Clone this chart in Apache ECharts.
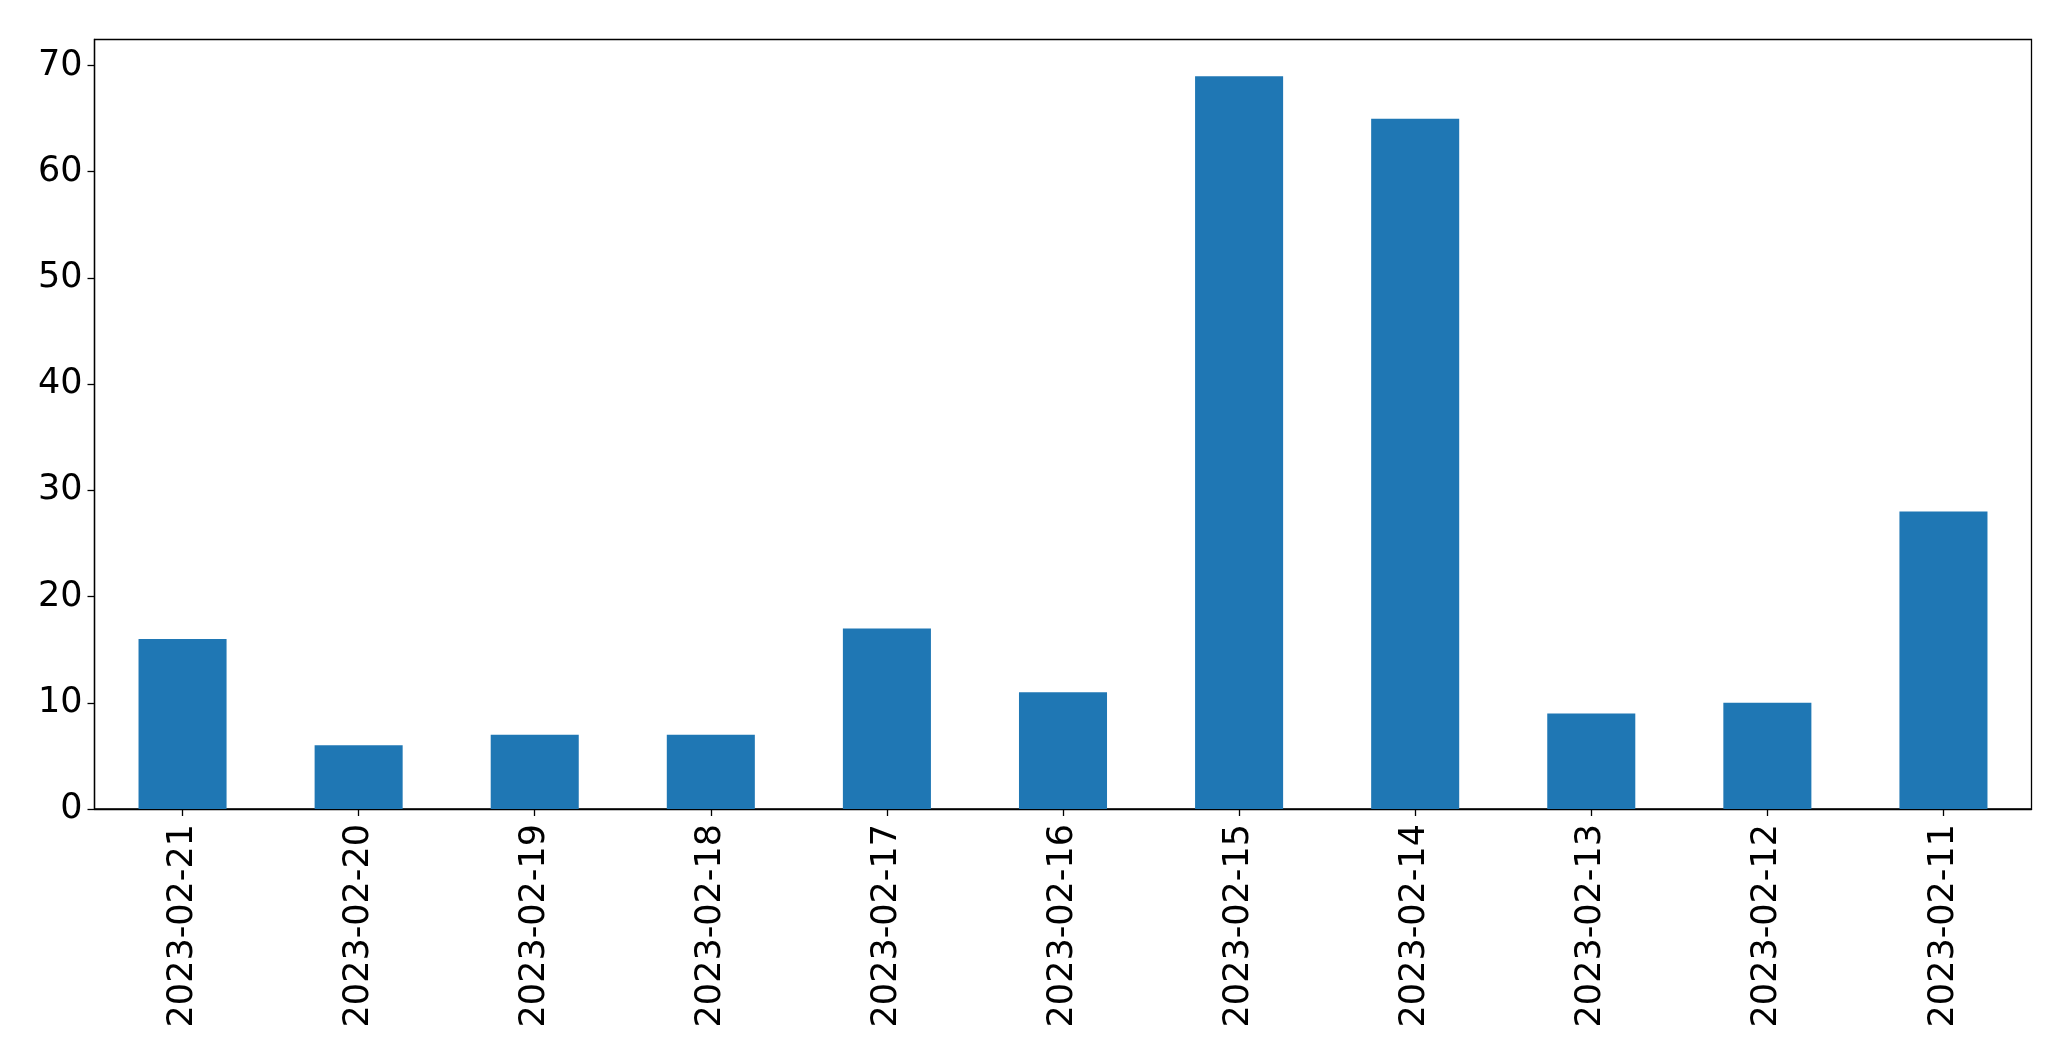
<!DOCTYPE html>
<html>
<head>
<meta charset="utf-8">
<script src="https://cdn.jsdelivr.net/npm/echarts@6/dist/echarts.min.js"></script>
<style>html,body{margin:0;padding:0;background:#fff;}#c{width:2071px;height:1061px;}</style>
</head>
<body>
<div id="c"></div>
<script>
const categories = ['2023-02-21','2023-02-20','2023-02-19','2023-02-18','2023-02-17','2023-02-16','2023-02-15','2023-02-14','2023-02-13','2023-02-12','2023-02-11'];
const values = [16, 6, 7, 7, 17, 11, 69, 65, 9, 10, 28];
const yTicks = [0, 10, 20, 30, 40, 50, 60, 70];

const chart = echarts.init(document.getElementById('c'), null, {renderer: 'canvas'});
const font = {fontFamily: 'DejaVu Sans', fontSize: 35, color: '#000'};
chart.setOption({
  animation: false,
  backgroundColor: '#fff',
  grid: {left: 94.5, right: 39.5, top: 39.5, bottom: 252, show: true, borderColor: '#000', borderWidth: 1.3, backgroundColor: 'transparent'},
  xAxis: {
    type: 'category', data: categories, boundaryGap: true,
    axisLine: {show: true, lineStyle: {color: '#000', width: 1.3}},
    axisTick: {show: true, alignWithLabel: true, length: 7, lineStyle: {color: '#000', width: 1.3}},
    axisLabel: Object.assign({rotate: 90, margin: 15, interval: 0}, font),
    splitLine: {show: false}
  },
  yAxis: {
    type: 'value', min: 0, max: 72.45, interval: 10,
    axisLine: {show: true, lineStyle: {color: '#000', width: 1.3}},
    axisTick: {show: true, length: 7, customValues: yTicks, lineStyle: {color: '#000', width: 1.3}},
    axisLabel: Object.assign({margin: 12, customValues: yTicks}, font),
    splitLine: {show: false}
  },
  series: [{
    type: 'bar', data: values, barWidth: '50%',
    itemStyle: {color: '#1f77b4'}
  }]
});
</script>
</body>
</html>
